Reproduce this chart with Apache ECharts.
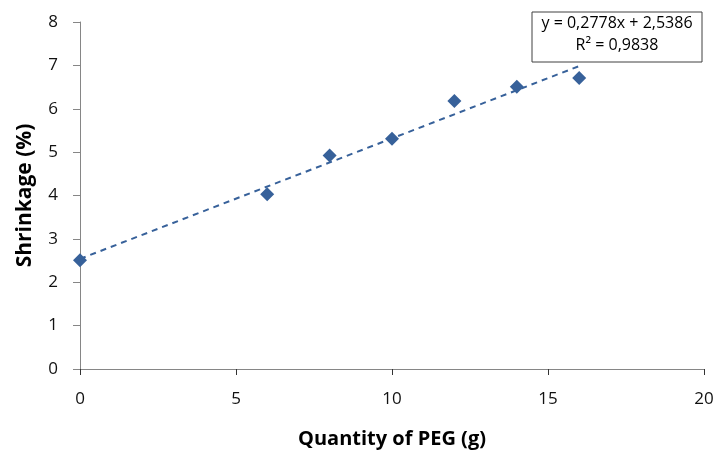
<!DOCTYPE html>
<html>
<head>
<meta charset="utf-8">
<script src="https://cdn.jsdelivr.net/npm/echarts@6/dist/echarts.min.js"></script>
<style>html,body{margin:0;padding:0;background:#fff}#c{width:717px;height:454px}</style>
</head>
<body>
<div id="c"></div>
<script>
const pegQuantity = [0, 6, 8, 10, 12, 14, 16];
const shrinkage = [2.51, 4.03, 4.92, 5.31, 6.18, 6.51, 6.71];
const trendSlope = 0.2778;
const trendIntercept = 2.5386;
const trendX = [0, 16];
const equationText = 'y = 0,2778x + 2,5386';
const r2Text = 'R² = 0,9838';
const xTitle = 'Quantity of PEG (g)';
const yTitle = 'Shrinkage (%)';

const FONT = "'Open Sans', 'Noto Sans', sans-serif";
const COLOR = '#37619a';
const chart = echarts.init(document.getElementById('c'), null, {renderer: 'canvas'});
chart.setOption({
  animation: false,
  backgroundColor: '#fff',
  grid: {left: 80, right: 13, top: 22, bottom: 83, containLabel: false},
  xAxis: {
    type: 'value', min: 0, max: 20, interval: 5,
    name: xTitle, nameLocation: 'middle', nameGap: 60,
    nameTextStyle: {fontFamily: FONT, fontSize: 20, fontWeight: 'bold', color: '#000'},
    axisLine: {show: true, onZero: false, lineStyle: {color: '#868686', width: 1}},
    axisTick: {show: true, length: 6, lineStyle: {color: '#333', width: 1}},
    axisLabel: {fontFamily: FONT, fontSize: 17, color: '#111', margin: 22},
    splitLine: {show: false}
  },
  yAxis: {
    type: 'value', min: 0, max: 8, interval: 1,
    name: yTitle, nameLocation: 'middle', nameGap: 44, nameRotate: 90,
    nameTextStyle: {fontFamily: FONT, fontSize: 21, fontWeight: 'bold', color: '#000'},
    axisLine: {show: true, lineStyle: {color: '#868686', width: 1}},
    axisTick: {show: true, length: 7, lineStyle: {color: '#868686', width: 1}},
    axisLabel: {fontFamily: FONT, fontSize: 17, color: '#111', margin: 22},
    splitLine: {show: false}
  },
  series: [
    {
      type: 'line',
      data: trendX.map(x => [x, trendIntercept + trendSlope * x]),
      showSymbol: false, symbol: 'none',
      lineStyle: {color: COLOR, width: 2, type: [6, 5]},
      z: 2
    },
    {
      type: 'scatter',
      data: pegQuantity.map((x, i) => [x, shrinkage[i]]),
      symbol: 'diamond', symbolSize: 14,
      itemStyle: {color: COLOR, opacity: 1},
      z: 3
    }
  ],
  graphic: [
    {type: 'rect', shape: {x: 532, y: 12, width: 170, height: 50},
     style: {fill: '#fff', stroke: '#404040', lineWidth: 1}, z: 10},
    {type: 'text',
     style: {text: equationText, x: 617, y: 15, textAlign: 'center', fontFamily: FONT, fontSize: 16, fill: '#000'}, z: 11},
    {type: 'text',
     style: {text: r2Text, x: 617, y: 37, textAlign: 'center', fontFamily: FONT, fontSize: 16, fill: '#000'}, z: 11}
  ]
});
</script>
</body>
</html>
